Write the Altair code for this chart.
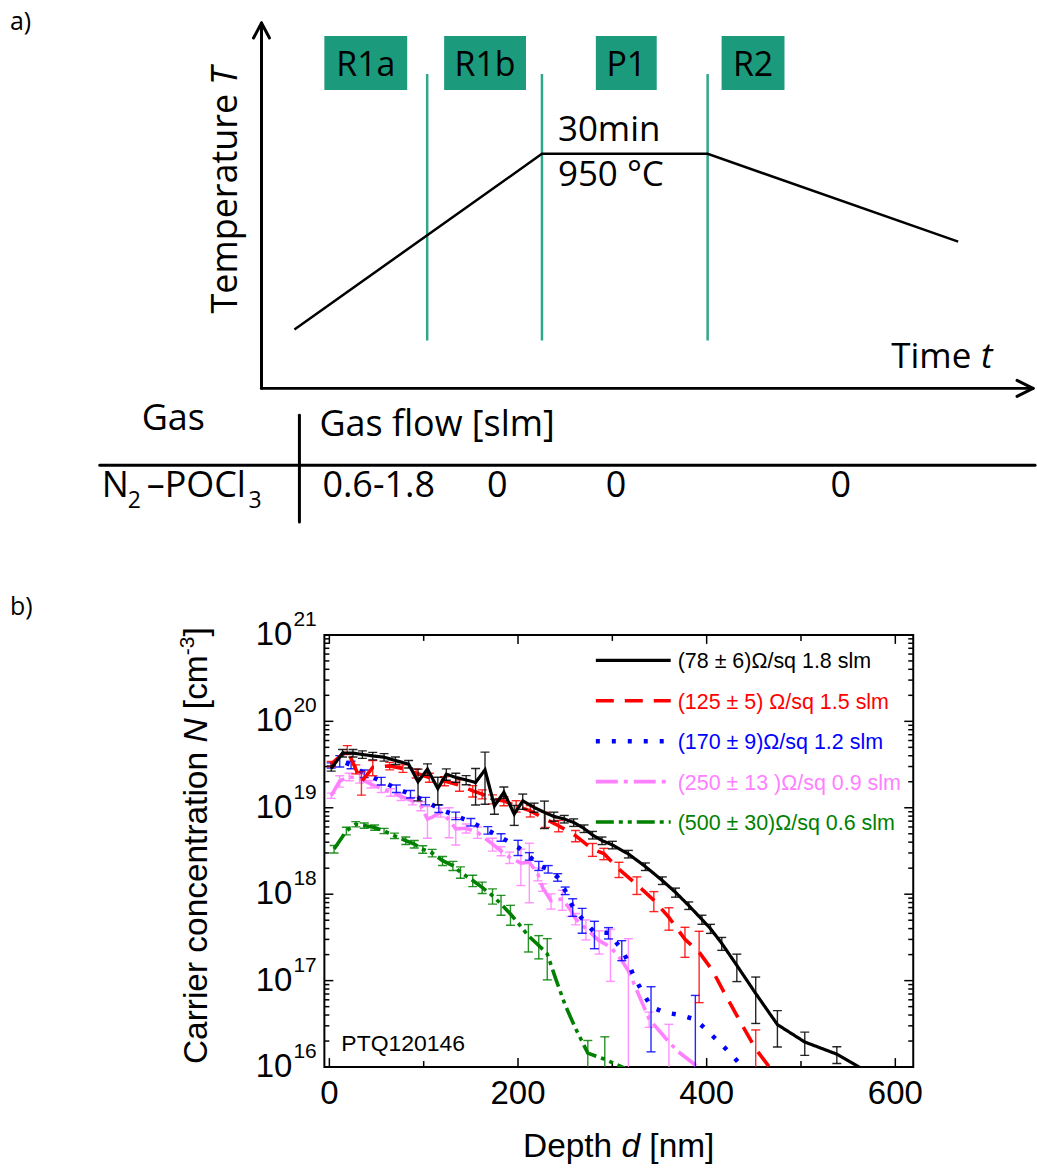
import altair as alt
import pandas as pd

FONT_A = "Open Sans"
FONT_B = "Liberation Sans"
TEAL_BOX = "#1b9a7c"
TEAL_LINE = "#2fa88a"

# ======================= panel a) : process sketch (sketch layout units) =======================
A_W, A_H = 1037, 635

profile_time = [295, 543, 709, 960]
profile_temp = [329, 153, 153, 241]

phase_labels = ["R1a", "R1b", "P1", "R2"]
phase_left = [325, 445, 597, 723]
phase_right = [408, 527, 658, 786]
phase_top = [35, 35, 35, 35]
phase_bottom = [89, 89, 89, 89]
phase_label_base = [75, 75, 75, 75]

boundary_x = [428, 543, 709]
boundary_top = [73, 73, 73]
boundary_bottom = [340, 340, 340]

# axis arrows + table rules as straight segments
seg_x0 = [262, 254, 270, 262, 1019, 1019, 100, 300]
seg_y0 = [388, 37, 37, 388, 380, 396, 465, 415]
seg_x1 = [262, 262, 262, 1035, 1035, 1035, 1037, 300]
seg_y1 = [22, 22, 22, 388, 388, 388, 465, 522]

text_up = ["a)", "b)", "30min", "950 °C", "Time", "Gas", "Gas flow [slm]", "N", "–POCl",
           "0.6-1.8", "0", "0", "0", "2", "3"]
text_up_x = [10, 10, 559, 559, 893, 142, 320, 102, 147, 323, 488, 607, 832, 128, 249]
text_up_y = [29, 615, 140, 185, 368, 430, 436, 497, 497, 497, 497, 497, 497, 508, 508]
text_up_fs = [25, 25, 35, 35, 35, 36, 36, 36, 36, 36, 36, 36, 36, 23, 23]

text_it = ["t"]
text_it_x = [983]
text_it_y = [368]
text_it_fs = [35]

# rotated y-axis label of the sketch
rot_text = ["Temperature"]
rot_x = [237]
rot_y = [313]
rot_it_text = ["T"]
rot_it_x = [237]
rot_it_y = [84]

# ======================= panel b) : carrier concentration profiles =======================
black_depth = [2, 14, 25, 35, 46, 58, 70, 84, 94, 104, 115, 124, 134, 145, 155, 165, 175, 185, 196, 205,
               217, 228, 238, 249, 259, 270, 279, 289, 300, 317, 335, 353, 367, 381, 395, 404, 416, 432,
               452, 475, 504, 538, 570]
black_conc = [2.85e19, 4.29e19, 4.29e19, 4.14e19, 3.98e19, 3.85e19, 3.52e19, 3.20e19, 2.0e19, 2.8e19,
              1.67e19, 2.45e19, 2.24e19, 2.1e19, 1.96e19, 2.75e19, 1.05e19, 1.51e19, 8.45e18, 1.2e19,
              1.01e19, 8.85e18, 7.94e18, 7.41e18, 6.76e18, 5.75e18, 4.84e18, 4.17e18, 3.72e18, 2.92e18,
              2.09e18, 1.44e18, 1.05e18, 7.4e17, 5.1e17, 4.0e17, 2.7e17, 1.5e17, 7.1e16, 3.1e16,
              1.95e16, 1.41e16, 8.9e15]
black_err = [0.07, 0.1, 0.1, 0.1, 0.1, 0.1, 0.1, 0.1, 0.4, 0.15, 0.35, 0.15, 0.12, 0.12, 0.45, 0.6, 0.2,
             0.15, 0.26, 0.2, 0.12, 0.35, 0.12, 0.1, 0.1, 0.1, 0.1, 0.1, 0.1, 0.1, 0.1, 0.1, 0.12, 0.1,
             0.12, 0.12, 0.17, 0.35, 0.55, 0.45, 0.3, 0.22, 0]

red_depth = [2, 19, 28, 34, 46, 64, 78, 92, 106, 122, 138, 152, 162, 173, 185, 198, 213, 229, 243, 261,
             279, 291, 307, 326, 344, 360, 377, 392, 406, 420, 434, 452, 470]
red_conc = [3.2e19, 4.68e19, 2.8e19, 2.0e19, 2.93e19, 3.05e19, 2.85e19, 2.51e19, 2.24e19, 2.04e19,
            1.83e19, 1.57e19, 1.44e19, 1.26e19, 1.2e19, 1.05e19, 9.2e18, 7.4e18, 6.2e18, 4.75e18,
            3.3e18, 2.95e18, 1.95e18, 1.29e18, 8.5e17, 5.4e17, 3.0e17, 2.14e17, 1.32e17, 6.8e16,
            3.6e16, 1.62e16, 8.9e15]
red_err = [0.07, 0.12, 0.12, 0.3, 0.2, 0.1, 0.1, 0.12, 0.12, 0.12, 0.15, 0.15, 0.12, 0.12, 0.12, 0.15,
           0.15, 0.2, 0.15, 0.15, 0.17, 0.15, 0.2, 0.23, 0.26, 0.29, 0.38, 0.74, 0, 0, 0, 0.66, 0]

blue_depth = [2, 11, 23, 37, 55, 71, 86, 102, 116, 134, 150, 168, 182, 200, 212, 222, 232, 242, 250, 258,
              268, 281, 296, 310, 316, 323, 341, 355, 372, 388, 402, 415, 427, 440]
blue_conc = [3.09e19, 3.49e19, 3.14e19, 2.49e19, 2.04e19, 1.67e19, 1.44e19, 1.2e19, 9.8e18, 8.1e18,
             6.84e18, 5.5e18, 4.55e18, 3.5e18, 2.75e18, 2.14e18, 1.95e18, 1.57e18, 1.1e18, 7.2e17,
             5.2e17, 3.6e17, 3.57e17, 2.3e17, 1.71e17, 1.1e17, 5.0e16, 4.3e16, 4.0e16, 3.55e16,
             2.55e16, 1.86e16, 1.37e16, 9.5e15]
blue_err = [0.07, 0.15, 0.1, 0.1, 0.1, 0.1, 0.1, 0.1, 0.1, 0.1, 0.1, 0.1, 0.1, 0.2, 0.1, 0.12, 0.1, 0.1,
            0.1, 0.23, 0.32, 0.35, 0.15, 0.26, 0, 0, 0.7, 0, 0, 0.9, 0, 0, 0, 0]

violet_depth = [2, 11, 21, 32, 44, 55, 65, 76, 88, 97, 104, 109, 118, 127, 134, 145, 157, 173, 182, 191,
                203, 212, 221, 226, 235, 247, 256, 261, 272, 286, 298, 310, 317, 326, 339, 360, 370, 386, 398]
violet_conc = [1.38e19, 2.04e19, 2.28e19, 2.19e19, 1.88e19, 1.67e19, 1.51e19, 1.35e19, 1.2e19, 1.05e19,
               7.4e18, 7.8e18, 8.85e18, 7.25e18, 5.7e18, 5.8e18, 5.2e18, 3.8e18, 3.16e18, 2.67e18,
               2.29e18, 2.34e18, 1.72e18, 1.2e18, 8.4e17, 8.8e17, 6.5e17, 5.2e17, 4.0e17, 2.9e17,
               2.45e17, 1.71e17, 1.3e17, 7.7e16, 3.6e16, 1.95e16, 1.5e16, 1.1e16, 8.3e15]
violet_err = [0.07, 0.15, 0.1, 0.12, 0.1, 0.1, 0.1, 0.1, 0.1, 0.12, 0.4, 0, 0.12, 0.38, 0.35, 0.12, 0.15,
              0.17, 0.12, 0.15, 0.45, 0.66, 0.17, 0.1, 0.2, 0.26, 0.15, 0.15, 0.26, 0.3, 0.6, 0, 1.35, 0,
              0.2, 0.6, 0, 0, 0]

green_depth = [5, 18, 28, 37, 48, 58, 69, 81, 90, 99, 109, 120, 131, 139, 152, 162, 173, 182, 192, 201,
               211, 222, 231, 240, 250, 261, 274, 292, 315]
green_conc = [3.33e18, 5.4e18, 6.46e18, 6.24e18, 5.9e18, 5.4e18, 4.75e18, 4.17e18, 3.8e18, 3.31e18,
              3.0e18, 2.44e18, 2.14e18, 1.8e18, 1.44e18, 1.2e18, 9.6e17, 7.7e17, 5.9e17, 4.5e17,
              3.3e17, 2.55e17, 2.04e17, 1.05e17, 5.2e16, 2.8e16, 1.45e16, 1.23e16, 9.5e15]
green_err = [0.1, 0.1, 0.07, 0.07, 0.07, 0.07, 0.07, 0.1, 0.1, 0.1, 0.1, 0.12, 0.12, 0.15, 0.15, 0.15,
             0.2, 0.26, 0.26, 0, 0.35, 0.3, 0.5, 0, 0, 0, 0.4, 0.82, 0]

legend_labels = ["(78 ± 6)Ω/sq 1.8 slm", "(125 ± 5) Ω/sq 1.5 slm", "(170 ± 9)Ω/sq 1.2 slm",
                 "(250 ± 13 )Ω/sq 0.9 slm", "(500 ± 30)Ω/sq 0.6 slm"]
series_colors = ["#000000", "#ff0000", "#0000ff", "#ff80ff", "#008000"]
series_dash = [[1, 0], [18, 11], [4, 12], [22, 6, 4, 6], [18, 5, 4, 5, 4, 5]]
series_width = [3.2, 3.6, 4.5, 3.6, 3.6]
series_depth = [black_depth, red_depth, blue_depth, violet_depth, green_depth]
series_conc = [black_conc, red_conc, blue_conc, violet_conc, green_conc]
series_err = [black_err, red_err, blue_err, violet_err, green_err]

x_major = [0, 200, 400, 600]
x_minor = [100, 300, 500]
y_major = [1e16, 1e17, 1e18, 1e19, 1e20, 1e21]
y_exp = ["16", "17", "18", "19", "20", "21"]
y_minor = [m * 10.0 ** k for k in range(16, 21) for m in range(2, 10)]

B_W, B_H = 590, 433
X_DOMAIN = [-5.29, 619.0]

# ======================= build panel a) =======================
XA = alt.Scale(domain=[0, A_W], nice=False, zero=False)
YA = alt.Scale(domain=[0, A_H], nice=False, zero=False, reverse=True)


def ax(f):
    return alt.X(f, type="quantitative", scale=XA, axis=None)


def ay(f):
    return alt.Y(f, type="quantitative", scale=YA, axis=None)


boxes_df = pd.DataFrame({"x": phase_left, "x2": phase_right, "y": phase_top, "y2": phase_bottom,
                         "label": phase_labels,
                         "cx": [(a + b) / 2 for a, b in zip(phase_left, phase_right)],
                         "cy": phase_label_base})
boxes = alt.Chart(boxes_df).mark_rect(color=TEAL_BOX).encode(
    x=ax("x"), x2="x2:Q", y=ay("y"), y2="y2:Q")
box_text = alt.Chart(boxes_df).mark_text(font=FONT_A, fontSize=34, align="center",
                                         baseline="alphabetic", color="black").encode(
    x=ax("cx"), y=ay("cy"), text="label:N")

bound_df = pd.DataFrame({"x": boundary_x, "y": boundary_top, "y2": boundary_bottom})
bounds = alt.Chart(bound_df).mark_rule(color=TEAL_LINE, strokeWidth=2.5).encode(
    x=ax("x"), y=ay("y"), y2="y2:Q")

prof_df = pd.DataFrame({"x": profile_time, "y": profile_temp, "k": list(range(len(profile_time)))})
profile = alt.Chart(prof_df).mark_line(color="black", strokeWidth=2.5).encode(
    x=ax("x"), y=ay("y"), order="k:Q")

seg_df = pd.DataFrame({"x": seg_x0, "y": seg_y0, "x2": seg_x1, "y2": seg_y1})
segs = alt.Chart(seg_df).mark_rule(color="black", strokeWidth=3, strokeCap="round").encode(
    x=ax("x"), y=ay("y"), x2="x2:Q", y2="y2:Q")

up_df = pd.DataFrame({"t": text_up, "x": text_up_x, "y": text_up_y, "fs": text_up_fs})
up_text = alt.Chart(up_df).mark_text(font=FONT_A, align="left", baseline="alphabetic",
                                     color="black").encode(
    x=ax("x"), y=ay("y"), text="t:N", size=alt.Size("fs:Q", scale=None))

it_df = pd.DataFrame({"t": text_it, "x": text_it_x, "y": text_it_y, "fs": text_it_fs})
it_text = alt.Chart(it_df).mark_text(font=FONT_A, fontStyle="italic", align="left",
                                     baseline="alphabetic", color="black").encode(
    x=ax("x"), y=ay("y"), text="t:N", size=alt.Size("fs:Q", scale=None))

rot_df = pd.DataFrame({"t": rot_text, "x": rot_x, "y": rot_y})
rot_t = alt.Chart(rot_df).mark_text(font=FONT_A, fontSize=36, angle=270, align="left",
                                    baseline="alphabetic", color="black").encode(
    x=ax("x"), y=ay("y"), text="t:N")
rot_it_df = pd.DataFrame({"t": rot_it_text, "x": rot_it_x, "y": rot_it_y})
rot_it = alt.Chart(rot_it_df).mark_text(font=FONT_A, fontSize=36, fontStyle="italic",
                                        angle=270, align="left", baseline="alphabetic",
                                        color="black").encode(
    x=ax("x"), y=ay("y"), text="t:N")

top = alt.layer(boxes, box_text, bounds, profile, segs, up_text, it_text, rot_t, rot_it).properties(
    width=A_W, height=A_H)

# ======================= build panel b) =======================
XB = alt.Scale(domain=X_DOMAIN, nice=False, zero=False)
YB = alt.Scale(type="log", domain=[1e16, 1e21], nice=False)


def bx(f):
    return alt.X(f, type="quantitative", scale=XB, axis=None)


def by(f):
    return alt.Y(f, type="quantitative", scale=YB, axis=None)


layers = []
frame_df = pd.DataFrame({"x": [X_DOMAIN[0]], "x2": [X_DOMAIN[1]], "y": [1e16], "y2": [1e21]})
layers.append(alt.Chart(frame_df).mark_rect(fill="transparent", stroke="black", strokeWidth=2).encode(
    x=bx("x"), x2="x2:Q", y=by("y"), y2="y2:Q"))

# ticks (inward)
ymaj_df = pd.DataFrame({"N": y_major, "e": y_exp})
ymin_df = pd.DataFrame({"N": y_minor})
xmaj_df = pd.DataFrame({"d": x_major, "lab": [str(v) for v in x_major]})
xmin_df = pd.DataFrame({"d": x_minor})
for df, L in ((ymaj_df, 9), (ymin_df, 5)):
    layers.append(alt.Chart(df).mark_rule(color="black", strokeWidth=1.5).encode(
        y=by("N"), x=alt.value(0), x2=alt.value(L)))
    layers.append(alt.Chart(df).mark_rule(color="black", strokeWidth=1.5).encode(
        y=by("N"), x=alt.value(B_W), x2=alt.value(B_W - L)))
for df, L in ((xmaj_df, 9), (xmin_df, 6)):
    layers.append(alt.Chart(df).mark_rule(color="black", strokeWidth=1.5).encode(
        x=bx("d"), y=alt.value(B_H), y2=alt.value(B_H - L)))
    layers.append(alt.Chart(df).mark_rule(color="black", strokeWidth=1.5).encode(
        x=bx("d"), y=alt.value(0), y2=alt.value(L)))

# tick labels
layers.append(alt.Chart(xmaj_df).mark_text(font=FONT_B, fontSize=33, align="center",
                                           baseline="alphabetic", color="black").encode(
    x=bx("d"), y=alt.value(470), text="lab:N"))
layers.append(alt.Chart(ymaj_df).mark_text(font=FONT_B, fontSize=33, align="right",
                                           baseline="alphabetic", color="black", text="10",
                                           dy=10).encode(
    y=by("N"), x=alt.value(-32)))
layers.append(alt.Chart(ymaj_df).mark_text(font=FONT_B, fontSize=21, align="left",
                                           baseline="alphabetic", color="black", dy=-9).encode(
    y=by("N"), x=alt.value(-31), text="e:N"))


# axis titles (pieces so that italics and superscript are kept)
def tpiece(txt, x, y, fs=33.5, style="normal", angle=0):
    kw = dict(font=FONT_B, fontSize=fs, fontStyle=style, align="left", baseline="alphabetic",
              color="black", text=txt)
    if angle:
        kw["angle"] = angle
    return alt.Chart(pd.DataFrame({"a": [0]})).mark_text(**kw).encode(x=alt.value(x), y=alt.value(y))


layers += [
    tpiece("Carrier concentration", -118, 430, angle=270),
    tpiece("N", -118, 107.9, style="italic", angle=270),
    tpiece("[cm", -118, 74.4, angle=270),
    tpiece("-3", -131, 20.4, fs=21, angle=270),
    tpiece("]", -118, 1.7, angle=270),
    tpiece("Depth", 199, 523.5),
    tpiece("d", 297.7, 523.5, style="italic"),
    tpiece("[nm]", 325.6, 523.5),
    tpiece("PTQ120146", 17, 417, fs=23),
]

# data series (drawn back to front)
for i in [4, 3, 2, 1, 0]:
    df = pd.DataFrame({"d": series_depth[i], "N": series_conc[i], "f": series_err[i]})
    df["k"] = list(range(len(df)))
    eb = df[df["f"] > 0].copy()
    eb["lo"] = eb["N"] * (1 - eb["f"]).clip(lower=1e-3)
    eb["hi"] = eb["N"] * (1 + eb["f"])
    caps = pd.concat([eb[["d"]].assign(v=eb["lo"]), eb[["d"]].assign(v=eb["hi"])])
    col = series_colors[i]
    layers.append(alt.Chart(eb).mark_rule(color=col, strokeWidth=1.4, opacity=0.85, clip=True).encode(
        x=bx("d"), y=by("lo"), y2="hi:Q"))
    layers.append(alt.Chart(caps).mark_tick(orient="horizontal", size=9, thickness=1.4, color=col,
                                            opacity=0.85, clip=True).encode(x=bx("d"), y=by("v")))
    layers.append(alt.Chart(df).mark_line(color=col, strokeWidth=series_width[i],
                                          strokeDash=series_dash[i], clip=True).encode(
        x=bx("d"), y=by("N"), order="k:Q"))

# legend
for i in range(5):
    ry = 25.5 + 40.5 * i
    layers.append(alt.Chart(pd.DataFrame({"a": [0]})).mark_rule(
        color=series_colors[i], strokeWidth=series_width[i], strokeDash=series_dash[i]).encode(
        x=alt.value(272), x2=alt.value(347), y=alt.value(ry)))
    layers.append(alt.Chart(pd.DataFrame({"a": [0]})).mark_text(
        font=FONT_B, fontSize=21.5, align="left", baseline="middle", color=series_colors[i],
        text=legend_labels[i]).encode(x=alt.value(354), y=alt.value(ry + 2)))

bottom = alt.layer(*layers).properties(width=B_W, height=B_H)

spacer = alt.Chart(pd.DataFrame({"t": [""]})).mark_text().encode(
    text="t:N", x=alt.value(0), y=alt.value(0)).properties(width=325, height=B_H)

row = alt.hconcat(spacer, bottom, spacing=0, bounds="flush")
chart = alt.vconcat(top, row, spacing=0, bounds="flush").properties(
    padding=0, background="white").configure_view(stroke=None)

chart.save("out.html", embed_options={"renderer": "svg", "actions": False})
